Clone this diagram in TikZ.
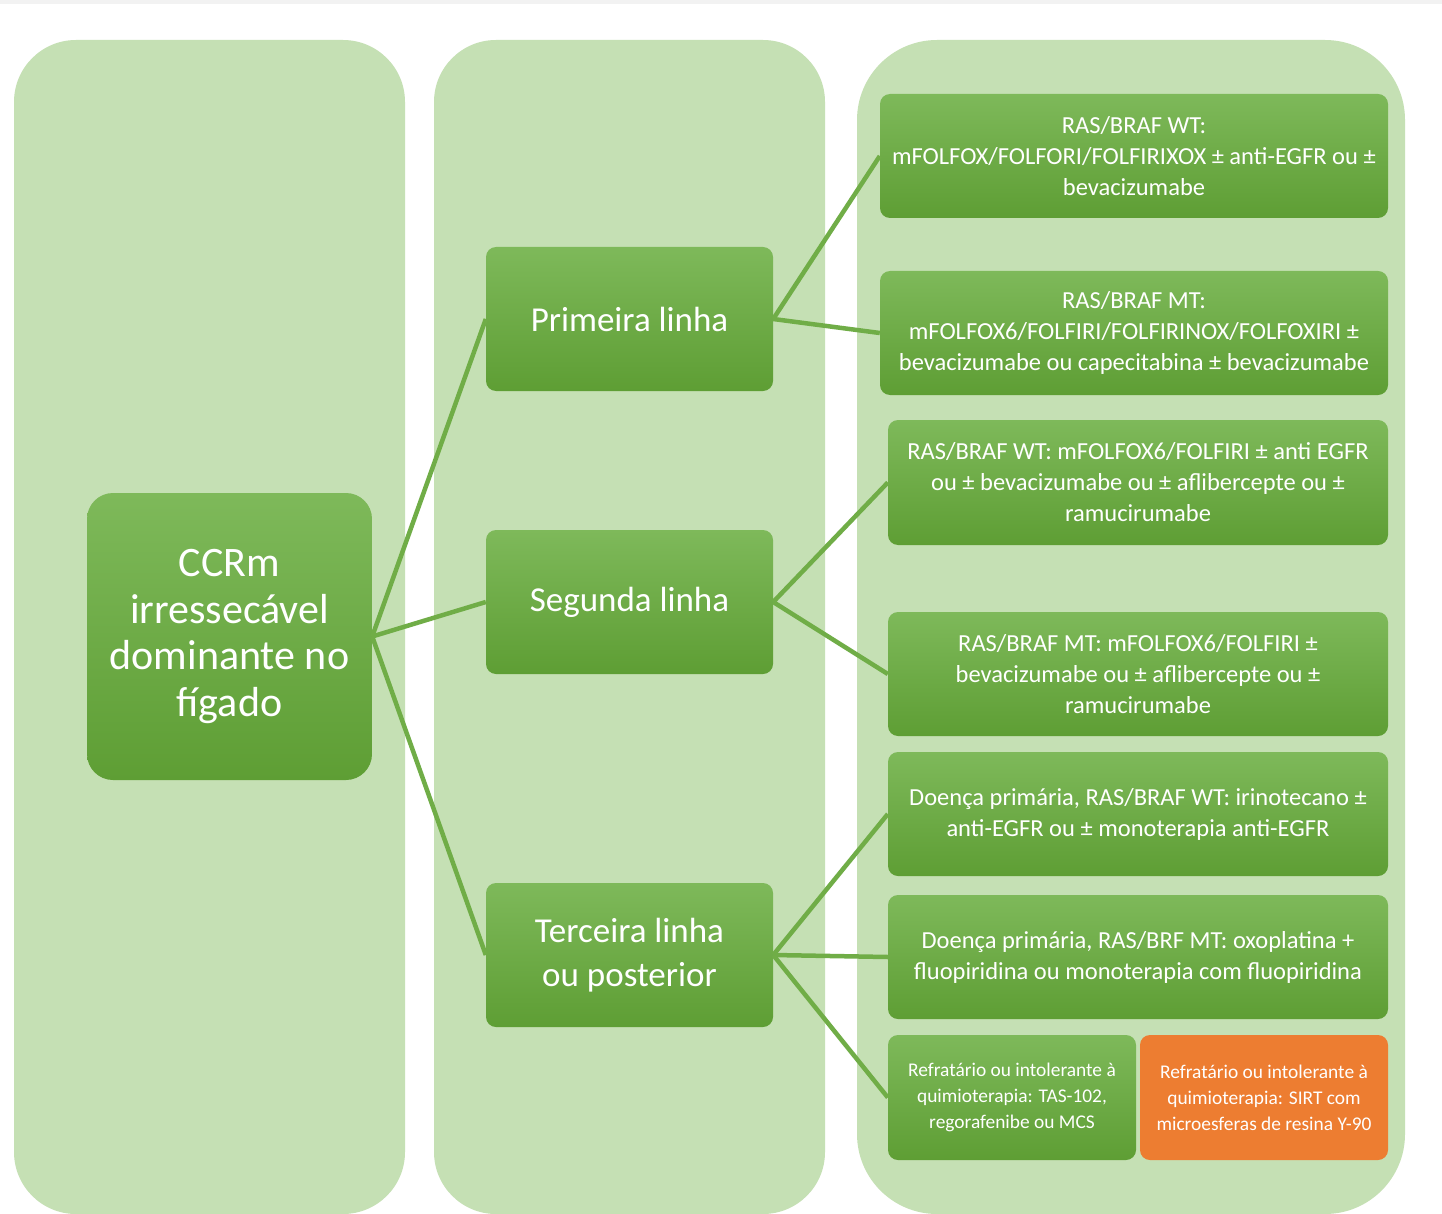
\documentclass[tikz,border=0pt]{standalone}
\usepackage{fontspec}
\setmainfont{Carlito}
\definecolor{colbg}{HTML}{C5E0B4}
\definecolor{gtop}{HTML}{7EB95A}
\definecolor{gbot}{HTML}{5E9E34}
\definecolor{lnk}{HTML}{70AD47}
\definecolor{orng}{HTML}{ED7D31}
\definecolor{strip}{HTML}{F2F2F2}
\tikzset{
  colpanel/.style={fill=colbg, draw=none},
  gbox/.style={rectangle, rounded corners=10pt, top color=gtop, bottom color=gbot, draw=none,
    text=white, align=center, inner sep=0pt},
  obox/.style={rectangle, rounded corners=10pt, fill=orng, draw=none,
    text=white, align=center, inner sep=0pt},
  bigtxt/.style={font=\fontsize{35}{44}\selectfont},
  roottxt/.style={font=\fontsize{42}{46.5}\selectfont},
  midtxt/.style={font=\fontsize{24.5}{31}\selectfont},
  smalltxt/.style={font=\fontsize{19.4}{26}\selectfont},
  link/.style={draw=lnk, line width=4.5pt},
}
\begin{document}
\begin{tikzpicture}[x=1pt,y=-1pt]
\useasboundingbox (0,0) rectangle (1442,1214);
\fill[white] (0,0) rectangle (1442,1214);
\fill[strip] (0,0) rectangle (1442,4);
% columns
\fill[colpanel, rounded corners=62pt] (14,40) rectangle (405,1214);
\fill[colpanel, rounded corners=62pt] (434,40) rectangle (825,1214);
\fill[colpanel, rounded corners=80pt] (857,40) rectangle (1405,1214);
% nodes
\node[gbox, roottxt, rounded corners=26pt, minimum width=285pt, minimum height=287pt] (root) at (229.5,636.5)
  {CCRm\\irressecável\\dominante no\\fígado};
\node[gbox, bigtxt, minimum width=287pt, minimum height=144pt] (p1) at (629.5,319) {Primeira linha};
\node[gbox, bigtxt, minimum width=287pt, minimum height=144pt] (p2) at (629.5,602) {Segunda linha};
\node[gbox, bigtxt, minimum width=287pt, minimum height=144pt] (p3) at (629.5,955) {Terceira linha\\ou posterior};
\node[gbox, midtxt, minimum width=508pt, minimum height=124pt] (b1) at (1134,156)
  {RAS/BRAF WT:\\mFOLFOX/FOLFORI/FOLFIRIXOX ± anti-EGFR ou ±\\bevacizumabe};
\node[gbox, midtxt, minimum width=508pt, minimum height=124pt] (b2) at (1134,333)
  {RAS/BRAF MT:\\mFOLFOX6/FOLFIRI/FOLFIRINOX/FOLFOXIRI ±\\bevacizumabe ou capecitabina ± bevacizumabe};
\node[gbox, midtxt, minimum width=500pt, minimum height=125pt] (b3) at (1138,482.5)
  {RAS/BRAF WT: mFOLFOX6/FOLFIRI ± anti EGFR\\ou ± bevacizumabe ou ± aflibercepte ou ±\\ramucirumabe};
\node[gbox, midtxt, minimum width=500pt, minimum height=124pt] (b4) at (1138,674)
  {RAS/BRAF MT: mFOLFOX6/FOLFIRI ±\\bevacizumabe ou ± aflibercepte ou ±\\ramucirumabe};
\node[gbox, midtxt, minimum width=500pt, minimum height=124pt] (b5) at (1138,814)
  {Doença primária, RAS/BRAF WT: irinotecano ±\\anti-EGFR ou ± monoterapia anti-EGFR};
\node[gbox, midtxt, minimum width=500pt, minimum height=124pt] (b6) at (1138,957)
  {Doença primária, RAS/BRF MT: oxoplatina +\\fluopiridina ou monoterapia com fluopiridina};
\node[gbox, smalltxt, minimum width=248pt, minimum height=125pt] (b7) at (1012,1097.5)
  {Refratário ou intolerante à\\quimioterapia: TAS-102,\\regorafenibe ou MCS};
\node[obox, smalltxt, minimum width=248pt, minimum height=125pt] (b8) at (1264,1097.5)
  {Refratário ou intolerante à\\quimioterapia: SIRT com\\microesferas de resina Y-90};
% connectors
\draw[link] (root.east) -- (p1.west);
\draw[link] (root.east) -- (p2.west);
\draw[link] (root.east) -- (p3.west);
\draw[link] (p1.east) -- (b1.west);
\draw[link] (p1.east) -- (b2.west);
\draw[link] (p2.east) -- (b3.west);
\draw[link] (p2.east) -- (b4.west);
\draw[link] (p3.east) -- (b5.west);
\draw[link] (p3.east) -- (b6.west);
\draw[link] (p3.east) -- (b7.west);
\end{tikzpicture}
\end{document}
